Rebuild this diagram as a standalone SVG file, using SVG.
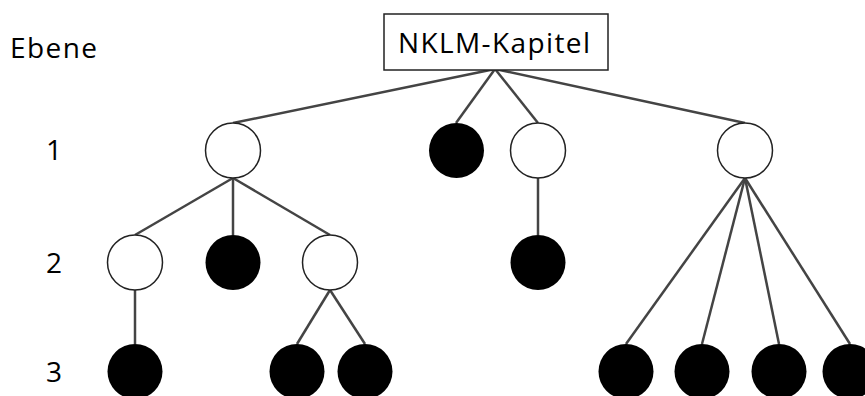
<svg xmlns="http://www.w3.org/2000/svg" width="865" height="396" viewBox="0 0 865 396">
<style>
.t{font-family:"Open Sans","Liberation Sans",sans-serif;font-size:28px;fill:#000}
.o{fill:#fff;stroke:#222;stroke-width:1.5}
.f{fill:#000}
.e{stroke:#444;stroke-width:2.5;fill:none}
</style>
<rect width="865" height="396" fill="#fff"/>
<text class="t" x="10" y="58" textLength="87">Ebene</text>
<text class="t" x="46" y="160">1</text>
<text class="t" x="46" y="273">2</text>
<text class="t" x="46" y="382">3</text>
<g id="edges">
<line class="e" x1="495" y1="69" x2="233" y2="123"/>
<line class="e" x1="495" y1="69" x2="456" y2="123"/>
<line class="e" x1="495" y1="69" x2="538" y2="123"/>
<line class="e" x1="495" y1="69" x2="745" y2="123"/>
<line class="e" x1="233" y1="178" x2="135" y2="235"/>
<line class="e" x1="233" y1="178" x2="233" y2="235"/>
<line class="e" x1="233" y1="178" x2="330" y2="235"/>
<line class="e" x1="538" y1="178" x2="538" y2="235"/>
<line class="e" x1="135" y1="290" x2="135" y2="344"/>
<line class="e" x1="330" y1="290" x2="297" y2="344"/>
<line class="e" x1="330" y1="290" x2="365" y2="344"/>
<line class="e" x1="745" y1="178" x2="626" y2="344"/>
<line class="e" x1="745" y1="178" x2="702" y2="344"/>
<line class="e" x1="745" y1="178" x2="779" y2="344"/>
<line class="e" x1="745" y1="178" x2="850" y2="344"/>
</g>
<g id="root"><rect x="384" y="14" width="224" height="56" fill="#fff" stroke="#222" stroke-width="1.5"/><text class="t" x="494" y="53" text-anchor="middle" textLength="192">NKLM-Kapitel</text></g>
<g id="n1a"><circle class="o" cx="233" cy="150.5" r="27.5"/></g>
<g id="n1b"><circle class="f" cx="456.5" cy="150.5" r="27.5"/></g>
<g id="n1c"><circle class="o" cx="538" cy="150.5" r="27.5"/></g>
<g id="n1d"><circle class="o" cx="745" cy="150.5" r="27.5"/></g>
<g id="n2a"><circle class="o" cx="135" cy="262.5" r="27.5"/></g>
<g id="n2b"><circle class="f" cx="233" cy="262.5" r="27.5"/></g>
<g id="n2c"><circle class="o" cx="330" cy="262.5" r="27.5"/></g>
<g id="n2d"><circle class="f" cx="538" cy="262.5" r="27.5"/></g>
<g id="n3a"><circle class="f" cx="135" cy="371.5" r="27.5"/></g>
<g id="n3b"><circle class="f" cx="297" cy="371.5" r="27.5"/></g>
<g id="n3c"><circle class="f" cx="365" cy="371.5" r="27.5"/></g>
<g id="n3d"><circle class="f" cx="626" cy="371.5" r="27.5"/></g>
<g id="n3e"><circle class="f" cx="702" cy="371.5" r="27.5"/></g>
<g id="n3f"><circle class="f" cx="779" cy="371.5" r="27.5"/></g>
<g id="n3g"><circle class="f" cx="850" cy="371.5" r="27.5"/></g>
</svg>
